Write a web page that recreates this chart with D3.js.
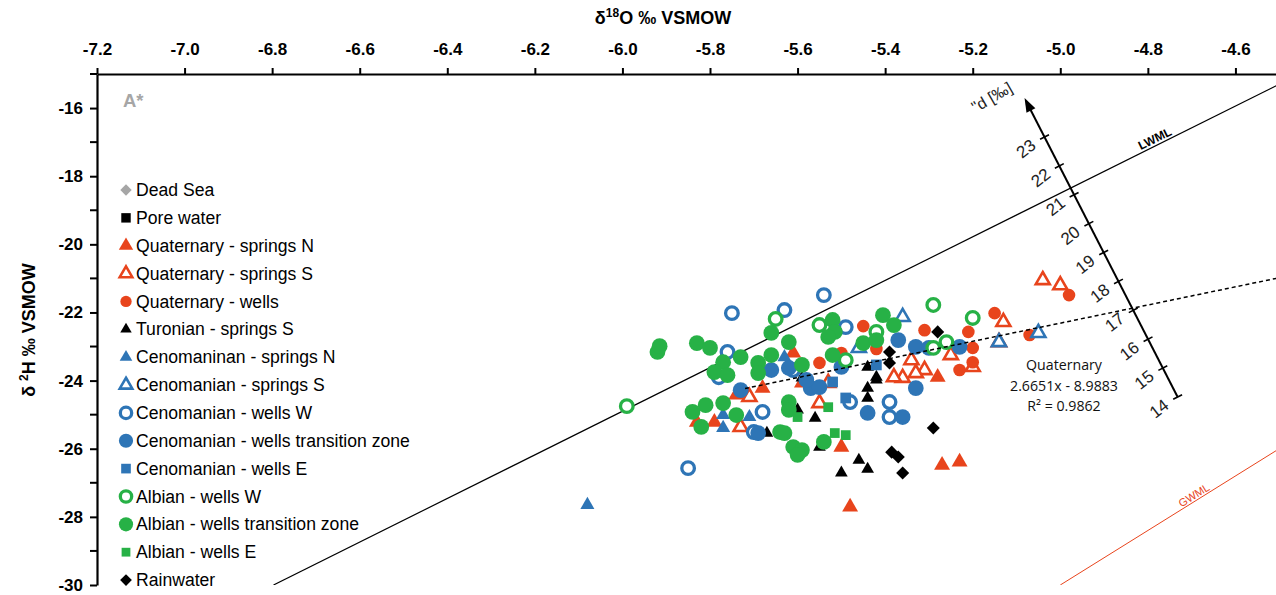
<!DOCTYPE html>
<html>
<head>
<meta charset="utf-8">
<script src="https://cdn.jsdelivr.net/npm/d3@7"></script>
<style>
  body { margin: 0; background: #fff; }
  svg { display: block; font-family: "Liberation Sans", Arial, sans-serif; }
</style>
</head>
<body>
<div id="chart"></div>
<script>
const WIDTH = 1276;
const HEIGHT = 595;
const ORANGE = '#e8441c';
const BLUE = '#2e75b6';
const GREEN = '#27b146';
const GREY = '#a6a6a6';
const BLACK = '#000';

// axis ticks
const X_TICKS = [-7.2, -7.0, -6.8, -6.6, -6.4, -6.2, -6.0, -5.8, -5.6, -5.4, -5.2, -5.0, -4.8, -4.6];
const Y_TICKS = [-30, -28, -26, -24, -22, -20, -18, -16];
const Y_MINOR = [-29, -27, -25, -23, -21, -19, -17, -15];
const D_TICKS = [14, 15, 16, 17, 18, 19, 20, 21, 22, 23];

// lines: dH = slope * dO + intercept
const LWML = { slope: 6.4, intercept: 13.5 };
const GWML = { slope: 8, intercept: 10 };
const QUAT_FIT = { slope: 2.6651, intercept: -8.9883, from: -5.72 };

// series values [d18O, d2H]
const deadSea = [];
const poreWater = [];
const quatSpringsN = [[-5.74, -24.42], [-5.68, -24.22], [-5.83, -25.22], [-5.79, -25.22], [-5.61, -23.19],
  [-5.59, -24.07], [-5.50, -25.95], [-5.28, -23.90], [-5.48, -27.71], [-5.27, -26.48], [-5.23, -26.39]];
const quatSpringsS = [[-5.04, -21.05], [-5.00, -21.20], [-5.13, -22.28], [-5.14, -22.87], [-5.25, -23.25],
  [-5.20, -23.60], [-5.34, -23.40], [-5.31, -23.69], [-5.33, -23.78], [-5.36, -23.92], [-5.38, -23.90],
  [-5.53, -24.07], [-5.55, -24.66], [-5.73, -25.36], [-5.71, -24.48]];
const quatWells = [[-4.98, -21.49], [-5.15, -22.02], [-5.21, -22.57], [-5.20, -23.04], [-5.23, -23.69],
  [-5.20, -23.46], [-5.07, -22.66], [-5.31, -22.52], [-5.45, -22.40], [-5.42, -23.07], [-5.55, -23.48], [-5.50, -23.19]];
const turSpringsS = [[-5.44, -23.60], [-5.42, -23.90], [-5.44, -24.22], [-5.44, -24.51], [-5.59, -23.92],
  [-5.60, -24.86], [-5.56, -25.10], [-5.67, -25.54], [-5.55, -25.95], [-5.46, -26.33], [-5.50, -26.71],
  [-5.44, -26.60], [-5.42, -23.98]];
const cenSpringsN = [[-6.08, -27.65], [-5.63, -23.31], [-5.77, -25.01], [-5.77, -25.39], [-5.71, -25.07]];
const cenSpringsS = [[-5.05, -22.60], [-5.14, -22.87], [-5.36, -22.13], [-5.46, -23.04]];
const cenWellsW = [[-5.75, -22.02], [-5.54, -21.49], [-5.63, -21.93], [-5.49, -22.43], [-5.76, -23.16],
  [-5.78, -23.90], [-5.61, -23.69], [-5.68, -24.92], [-5.70, -25.51], [-5.48, -24.63], [-5.39, -24.63],
  [-5.39, -25.07], [-5.85, -26.57]];
const cenWellsTZ = [[-5.37, -22.81], [-5.33, -23.01], [-5.30, -23.04], [-5.23, -23.01], [-5.33, -24.22],
  [-5.66, -23.69], [-5.57, -24.22], [-5.55, -24.19], [-5.50, -23.60], [-5.44, -24.95], [-5.36, -25.07],
  [-5.69, -25.54], [-5.73, -24.28], [-5.58, -23.98], [-5.62, -23.63]];
const cenWellsE = [[-5.52, -24.04], [-5.42, -23.54], [-5.49, -24.51]];
const albWellsW = [[-5.99, -24.75], [-5.65, -22.19], [-5.55, -22.37], [-5.42, -22.57], [-5.29, -21.78],
  [-5.20, -22.16], [-5.29, -23.04], [-5.26, -22.87], [-5.49, -23.40]];
const albWellsTZ = [[-5.92, -23.16], [-5.915, -22.99], [-5.83, -22.90], [-5.80, -23.04], [-5.73, -23.31],
  [-5.77, -23.46], [-5.79, -23.75], [-5.76, -23.84], [-5.66, -22.60], [-5.69, -23.48], [-5.69, -23.78],
  [-5.66, -23.25], [-5.84, -24.92], [-5.81, -24.72], [-5.82, -25.36], [-5.77, -24.66], [-5.74, -25.01],
  [-5.64, -25.51], [-5.52, -22.22], [-5.515, -22.57], [-5.53, -22.72], [-5.405, -22.08], [-5.38, -22.37],
  [-5.45, -22.90], [-5.42, -22.81], [-5.62, -22.87], [-5.59, -23.54], [-5.52, -23.25], [-5.62, -24.63],
  [-5.62, -24.86], [-5.63, -25.54], [-5.61, -25.95], [-5.59, -26.04], [-5.60, -26.18], [-5.54, -25.80]];
const albWellsE = [[-5.60, -25.07], [-5.53, -24.78], [-5.515, -25.54], [-5.49, -25.60]];
const rainwater = [[-5.28, -22.57], [-5.39, -23.16], [-5.39, -23.48], [-5.29, -25.39], [-5.385, -26.10],
  [-5.37, -26.24], [-5.36, -26.71]];

// d-excess axis drawn on the plot: where d = 14 and d = 23 sit in (d18O, d2H)
const D_AXIS = { d0: 14, p0: [-4.732, -24.48], d1: 23, p1: [-5.036, -16.85], tip: 24.35 };

const SERIES = [
  { name: 'Dead Sea', data: deadSea, shape: 'diamond', color: GREY, size: 80 },
  { name: 'Pore water', data: poreWater, shape: 'square', color: BLACK, size: 110 },
  { name: 'Quaternary - springs N', data: quatSpringsN, shape: 'triangle', color: ORANGE, size: 110 },
  { name: 'Quaternary - springs S', data: quatSpringsS, shape: 'triangle', color: ORANGE, size: 85, open: true },
  { name: 'Quaternary - wells', data: quatWells, shape: 'circle', color: ORANGE, size: 125 },
  { name: 'Turonian - springs S', data: turSpringsS, shape: 'triangle', color: BLACK, size: 70 },
  { name: 'Cenomaninan - springs N', data: cenSpringsN, shape: 'triangle', color: BLUE, size: 85 },
  { name: 'Cenomanian - springs S', data: cenSpringsS, shape: 'triangle', color: BLUE, size: 85, open: true },
  { name: 'Cenomanian - wells W', data: cenWellsW, shape: 'circle', color: BLUE, size: 125, open: true },
  { name: 'Cenomanian - wells transition zone', data: cenWellsTZ, shape: 'circle', color: BLUE, size: 195 },
  { name: 'Cenomanian - wells E', data: cenWellsE, shape: 'square', color: BLUE, size: 115 },
  { name: 'Albian - wells W', data: albWellsW, shape: 'circle', color: GREEN, size: 125, open: true },
  { name: 'Albian - wells transition zone', data: albWellsTZ, shape: 'circle', color: GREEN, size: 195 },
  { name: 'Albian - wells E', data: albWellsE, shape: 'square', color: GREEN, size: 95 },
  { name: 'Rainwater', data: rainwater, shape: 'diamond', color: BLACK, size: 85 }
];

const SYMBOLS = {
  triangle: d3.symbolTriangle,
  circle: d3.symbolCircle,
  square: d3.symbolSquare,
  diamond: d3.symbolSquare // drawn rotated 45deg
};

const svg = d3.select('#chart').append('svg')
  .attr('width', WIDTH)
  .attr('height', HEIGHT);

const x = d3.scaleLinear().domain([-7.2, -4.4]).range([97, 1323]);
const y = d3.scaleLinear().domain([-30, -15]).range([585, 74]);
const [x0] = x.range();
const [yBottom, yTop] = y.range();

svg.append('defs').append('clipPath').attr('id', 'plot')
  .append('rect')
  .attr('x', x0).attr('y', yTop)
  .attr('width', WIDTH - x0).attr('height', yBottom - yTop);

const plot = svg.append('g').attr('clip-path', 'url(#plot)');

// water lines
function fitLine(line, from, to) {
  return d3.line()(([from, to]).map(v => [x(v), y(line.slope * v + line.intercept)]));
}
plot.append('path')
  .attr('d', fitLine(LWML, (-30 - LWML.intercept) / LWML.slope, -4.4))
  .attr('stroke', BLACK).attr('stroke-width', 1.2).attr('fill', 'none');
plot.append('path')
  .attr('d', fitLine(GWML, (-30 - GWML.intercept) / GWML.slope, -4.4))
  .attr('stroke', ORANGE).attr('stroke-width', 1).attr('fill', 'none');

function markerPath(s, scale = 1) {
  return d3.symbol().type(SYMBOLS[s.shape]).size(s.size * scale * scale)();
}
function styleMarker(sel, s) {
  sel.attr('fill', s.open ? '#fff' : s.color)
    .attr('stroke', s.open ? s.color : 'none')
    .attr('stroke-width', s.open ? (s.shape === 'circle' ? 3.3 : 2.6) : 0);
}

// points
SERIES.forEach(s => {
  const g = plot.append('g').attr('class', 'series');
  g.selectAll('path')
    .data(s.data)
    .join('path')
    .attr('d', markerPath(s))
    .attr('transform', d => `translate(${x(d[0])},${y(d[1])})` + (s.shape === 'diamond' ? ' rotate(45)' : ''))
    .call(styleMarker, s);
});

// regression line for Quaternary
plot.append('path')
  .attr('d', fitLine(QUAT_FIT, QUAT_FIT.from, -4.4))
  .attr('stroke', BLACK).attr('stroke-width', 1.5)
  .attr('stroke-dasharray', '4,3').attr('fill', 'none');

// d-excess axis
const dPos = d3.scaleLinear().domain([D_AXIS.d0, D_AXIS.d1]).range([0, 1]);
function dPoint(d) {
  const t = dPos(d);
  const vx = D_AXIS.p0[0] + t * (D_AXIS.p1[0] - D_AXIS.p0[0]);
  const vy = D_AXIS.p0[1] + t * (D_AXIS.p1[1] - D_AXIS.p0[1]);
  return [x(vx), y(vy)];
}
const pA = dPoint(D_AXIS.d0);
const pB = dPoint(D_AXIS.d1);
const len = Math.hypot(pB[0] - pA[0], pB[1] - pA[1]);
const u = [(pB[0] - pA[0]) / len, (pB[1] - pA[1]) / len];
const nrm = [u[1], -u[0]]; // points left-down
const tip = dPoint(D_AXIS.tip);
const dAxis = svg.append('g').attr('class', 'd-axis');
dAxis.append('line')
  .attr('x1', pA[0]).attr('y1', pA[1])
  .attr('x2', tip[0] - u[0] * 10).attr('y2', tip[1] - u[1] * 10)
  .attr('stroke', BLACK).attr('stroke-width', 2);
dAxis.append('path')
  .attr('d', d3.line()([
    tip,
    [tip[0] - u[0] * 14 + nrm[0] * 5, tip[1] - u[1] * 14 + nrm[1] * 5],
    [tip[0] - u[0] * 14 - nrm[0] * 5, tip[1] - u[1] * 14 - nrm[1] * 5]
  ]) + 'Z')
  .attr('fill', BLACK);
const dTicks = dAxis.selectAll('g.dtick').data(D_TICKS).join('g').attr('class', 'dtick');
dTicks.append('line')
  .attr('x1', d => dPoint(d)[0] - nrm[0] * 5).attr('y1', d => dPoint(d)[1] - nrm[1] * 5)
  .attr('x2', d => dPoint(d)[0] + nrm[0] * 5).attr('y2', d => dPoint(d)[1] + nrm[1] * 5)
  .attr('stroke', BLACK).attr('stroke-width', 1.6);
dTicks.append('text')
  .attr('transform', d => {
    const p = dPoint(d);
    return `translate(${p[0] + nrm[0] * 21},${p[1] + nrm[1] * 21 + 2}) rotate(-38)`;
  })
  .attr('text-anchor', 'middle')
  .attr('dy', '0.35em')
  .attr('font-size', 17)
  .attr('fill', '#222')
  .text(d => d);
dAxis.append('text')
  .attr('transform', `translate(${tip[0] - 30},${tip[1] + 4}) rotate(-30)`)
  .attr('text-anchor', 'middle')
  .attr('font-size', 16)
  .attr('fill', '#222')
  .text('"d [‰]');

// line labels
const lwmlX = -4.78;
svg.append('text')
  .attr('transform', `translate(${x(lwmlX)},${y(LWML.slope * lwmlX + LWML.intercept) - 3}) rotate(-26.3)`)
  .attr('text-anchor', 'middle')
  .attr('font-size', 12).attr('font-weight', 'bold')
  .text('LWML');
const gwmlX = -4.69;
svg.append('text')
  .attr('transform', `translate(${x(gwmlX)},${y(GWML.slope * gwmlX + GWML.intercept) - 2}) rotate(-32)`)
  .attr('text-anchor', 'middle')
  .attr('font-size', 11).attr('fill', ORANGE)
  .text('GWML');

// regression annotation
const fitText = svg.append('text')
  .attr('font-family', '"Open Sans", sans-serif')
  .attr('font-size', 14.2)
  .attr('text-anchor', 'middle')
  .attr('fill', '#111');
['Quaternary', '2.6651x - 8.9883', 'R² = 0.9862'].forEach((t, i) => {
  fitText.append('tspan').attr('x', 1064).attr('y', 370 + i * 20.5).text(t);
});

// axes
const xAxis = svg.append('g')
  .attr('transform', `translate(0,${yTop})`)
  .call(d3.axisTop(x).tickValues(X_TICKS).tickFormat(d => d.toFixed(1)).tickSize(6).tickSizeOuter(0));
const yAxis = svg.append('g')
  .attr('transform', `translate(${x0},0)`)
  .call(d3.axisLeft(y).tickValues(Y_TICKS).tickFormat(d => d).tickSize(7).tickSizeOuter(0));
yAxis.selectAll('.minor')
  .data(Y_MINOR)
  .join('line')
  .attr('class', 'minor')
  .attr('x1', -7).attr('x2', 0)
  .attr('y1', d => y(d)).attr('y2', d => y(d))
  .attr('stroke', BLACK).attr('stroke-width', 2);
[xAxis, yAxis].forEach(a => {
  a.select('.domain').attr('stroke-width', 2.2);
  a.selectAll('.tick line').attr('stroke-width', 2);
  a.selectAll('.tick text')
    .attr('font-family', '"Liberation Sans", Arial, sans-serif')
    .attr('font-size', 17).attr('font-weight', 'bold').attr('fill', BLACK);
});
xAxis.selectAll('.tick text').attr('y', -19);
yAxis.selectAll('.tick text').attr('x', -14);

// axis titles
const xTitle = svg.append('text')
  .attr('x', 663).attr('y', 24)
  .attr('text-anchor', 'middle')
  .attr('font-size', 18).attr('font-weight', 'bold');
xTitle.append('tspan').text('δ');
xTitle.append('tspan').attr('font-size', 12).attr('dy', -7).text('18');
xTitle.append('tspan').attr('dy', 7).text('O ‰ VSMOW');

const yTitle = svg.append('text')
  .attr('transform', 'translate(35,330) rotate(-90)')
  .attr('text-anchor', 'middle')
  .attr('font-size', 18).attr('font-weight', 'bold');
yTitle.append('tspan').text('δ ');
yTitle.append('tspan').attr('font-size', 12).attr('dy', -7).text('2');
yTitle.append('tspan').attr('dy', 7).text('H ‰ VSMOW');

svg.append('text')
  .attr('x', 123).attr('y', 107)
  .attr('font-size', 18.5).attr('font-weight', 'bold')
  .attr('fill', GREY)
  .text('A*');

// legend
const legend = svg.append('g').attr('transform', 'translate(126,190)');
const rows = legend.selectAll('g').data(SERIES).join('g')
  .attr('transform', (d, i) => `translate(0,${i * 27.86})`);
rows.append('path')
  .attr('d', s => markerPath(s, 0.9))
  .attr('transform', s => s.shape === 'diamond' ? 'rotate(45)' : null)
  .each(function (s) { d3.select(this).call(styleMarker, s); });
rows.append('text')
  .attr('x', 10).attr('dy', '0.35em')
  .attr('font-size', 17.6)
  .text(s => s.name);
</script>
</body>
</html>
